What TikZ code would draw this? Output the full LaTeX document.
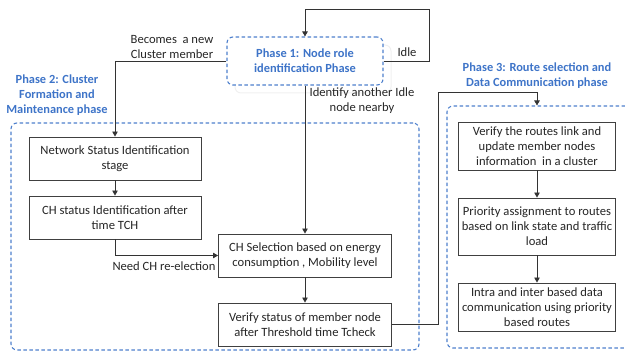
\documentclass[tikz,border=0pt]{standalone}
\usepackage{fontspec}
\setmainfont{Carlito}
\usetikzlibrary{arrows.meta}
\definecolor{phaseblue}{RGB}{78,128,205}
\definecolor{titleblue}{RGB}{62,116,200}

\begin{document}
\begin{tikzpicture}[x=1pt, y=-1pt,
  stepbox/.style={draw=black!75, line width=0.9pt, fill=white, align=center,
    inner sep=1pt, font=\fontsize{12.6}{15}\selectfont, text=black!85},
  phasebox/.style={draw=phaseblue, dash pattern=on 3.5pt off 2.5pt,
    line width=1.1pt, rounded corners=6pt},
  lbl/.style={align=center, inner sep=1pt, font=\fontsize{12.6}{15}\selectfont, text=black!85},
  ttl/.style={align=center, inner sep=1pt, font=\bfseries\fontsize{12.4}{15}\selectfont, text=titleblue},
  link/.style={draw=black!80, line width=0.8pt},
  arr/.style={link, -{Triangle[length=5pt, width=5.5pt]}}]
\useasboundingbox (0,0) rectangle (625,352);

% phase frames
\node[phasebox, minimum width=408pt, minimum height=227pt] (p2) at (215,236.5) {};
\node[phasebox, minimum width=190pt, minimum height=242pt] (p3) at (542,227) {};
\node[draw=black!6, line width=1pt, rounded corners=6pt,
  minimum width=156pt, minimum height=48pt] (p1s) at (313,69) {};
\node[phasebox, fill=white, minimum width=156pt, minimum height=48pt, ttl] (p1) at (305,61)
  {Phase 1: Node role\\identification Phase};

% phase titles
\node[ttl] (t2) at (57,95) {Phase 2: Cluster\\Formation and\\Maintenance phase};
\node[ttl] (t3) at (537,75.5) {Phase 3: Route selection and\\Data Communication phase};

% phase 2 steps
\node[stepbox, minimum width=172pt, minimum height=43pt] (ns) at (115,158.5)
  {Network Status Identification\\stage};
\node[stepbox, minimum width=172pt, minimum height=43pt] (cs) at (115,217.5)
  {CH status Identification after\\time TCH};
\node[stepbox, minimum width=173pt, minimum height=43pt] (ch) at (305,255.5)
  {CH Selection based on energy\\consumption , Mobility level};
\node[stepbox, minimum width=173pt, minimum height=43pt] (vs) at (305,324.5)
  {Verify status of member node\\after Threshold time Tcheck};

% phase 3 steps
\node[stepbox, minimum width=157pt, minimum height=48pt] (r1) at (537,146)
  {Verify the routes link and\\update member nodes\\information\ \ in a cluster};
\node[stepbox, minimum width=157pt, minimum height=57pt] (r2) at (537,226.5)
  {Priority assignment to routes\\based on link state and traffic\\load};
\node[stepbox, minimum width=157pt, minimum height=48pt] (r3) at (537,307)
  {Intra and inter based data\\communication using priority\\based routes};

% connectors
\coordinate (loop) at (429,9);
\coordinate (jog) at (438,92);
\draw[arr] (p1.east) -| (loop) -| (p1.north);
\draw[arr] (p1.west) -| (ns.north);
\draw[arr] (p1.south) -- (ch.north);
\draw[arr] (ns) -- (cs);
\draw[arr] (cs.south) |- (ch.west);
\draw[arr] (ch) -- (vs);
\draw[arr] (vs.east) -| (jog) -| (r1.north |- p3.north);
\draw[arr] (r1) -- (r2);
\draw[arr] (r2) -- (r3);

% connector labels
\node[lbl] (lidle) at (407,52) {Idle};
\node[lbl] (lnew) at (172,47) {Becomes\ \ a new\\Cluster member};
\node[lbl] (lnear) at (362,101) {Identify another Idle\\node nearby};
\node[lbl] (lre) at (164,266) {Need CH re-election};
\end{tikzpicture}
\end{document}
